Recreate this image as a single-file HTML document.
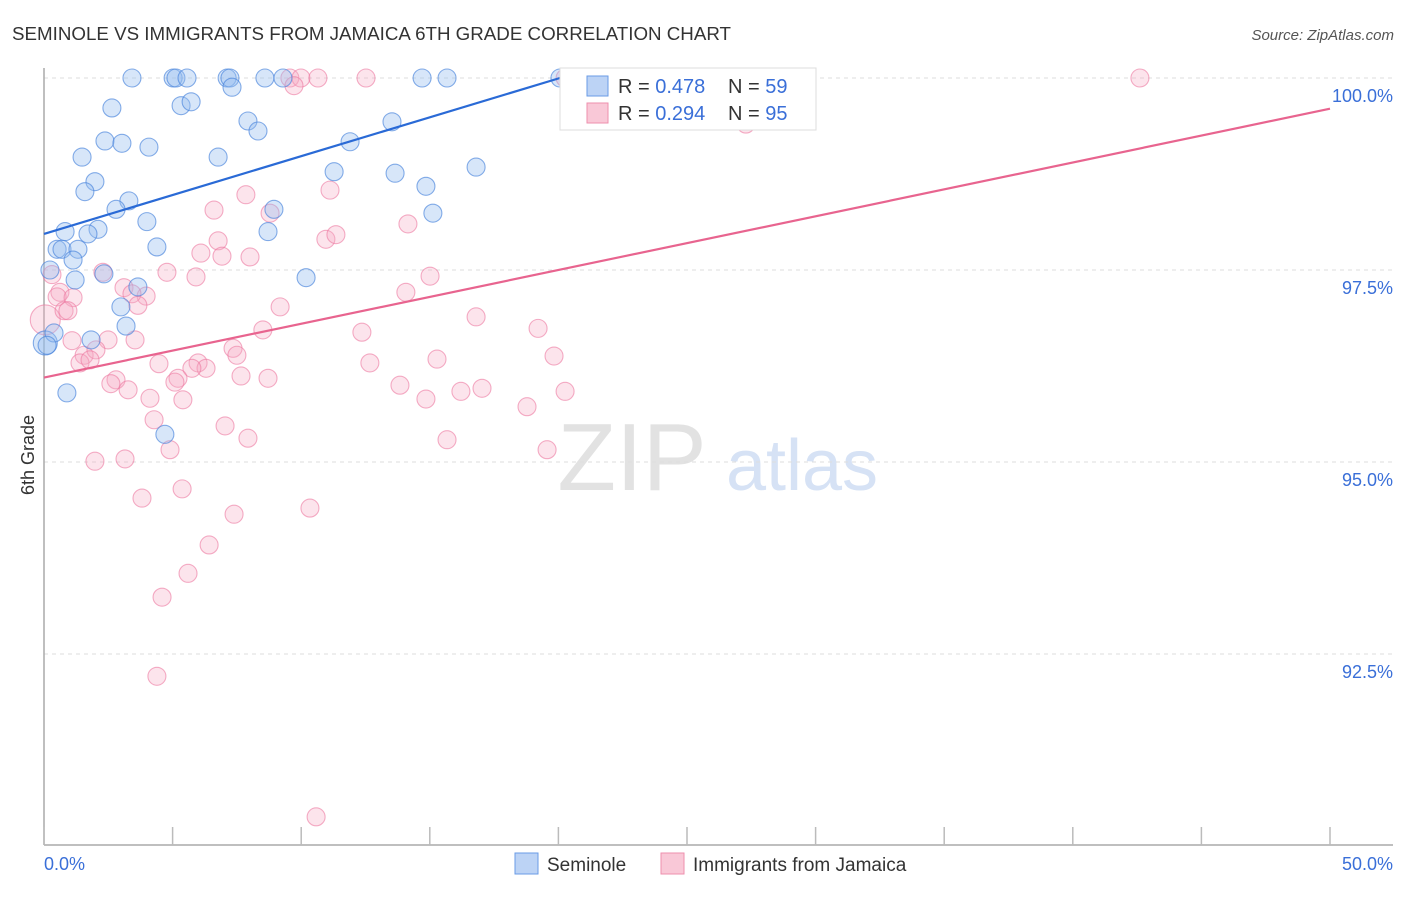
<!DOCTYPE html>
<html><head><meta charset="utf-8"><style>
body{margin:0;background:#fff;font-family:"Liberation Sans",sans-serif;}
svg text{font-family:"Liberation Sans",sans-serif;}
</style></head><body>
<svg id="chart" width="1406" height="892" xmlns="http://www.w3.org/2000/svg">
<text x="12" y="40" font-size="18" fill="#333" textLength="719" lengthAdjust="spacingAndGlyphs">SEMINOLE VS IMMIGRANTS FROM JAMAICA 6TH GRADE CORRELATION CHART</text>
<text x="1394" y="40" font-size="15" fill="#555" text-anchor="end" font-style="italic">Source: ZipAtlas.com</text>
<text x="632" y="490" font-size="96" fill="#e2e2e2" font-family="Liberation Serif" text-anchor="middle">ZIP</text>
<text x="802" y="490" font-size="72" fill="#d6e2f5" text-anchor="middle">atlas</text>
<g id="grid"></g>
<g id="axes"></g>
<g id="pts"></g>
<g id="lines"></g>
<text transform="translate(34,455) rotate(-90)" font-size="18" fill="#333" text-anchor="middle">6th Grade</text>
<g>
<rect x="560" y="68" width="256" height="62" fill="#fff" stroke="#ddd"/>
<rect x="587" y="76" width="21" height="20" fill="#bcd3f5" stroke="#6a9be6"/>
<rect x="587" y="103" width="21" height="20" fill="#f9c8d7" stroke="#ee8fae"/>
<text x="618" y="93" font-size="20" fill="#333">R = <tspan fill="#3a6fd8">0.478</tspan></text>
<text x="728" y="93" font-size="20" fill="#333">N = <tspan fill="#3a6fd8">59</tspan></text>
<text x="618" y="120" font-size="20" fill="#333">R = <tspan fill="#3a6fd8">0.294</tspan></text>
<text x="728" y="120" font-size="20" fill="#333">N = <tspan fill="#3a6fd8">95</tspan></text>
</g>
<g>
<rect x="515" y="853" width="23" height="21" fill="#bcd3f5" stroke="#6a9be6"/>
<text x="547" y="871" font-size="19" fill="#333">Seminole</text>
<rect x="661" y="853" width="23" height="21" fill="#f9c8d7" stroke="#ee8fae"/>
<text x="693" y="871" font-size="19" fill="#333">Immigrants from Jamaica</text>
</g>
</svg>
<script>
const blueX=[3.42,5.02,5.13,5.56,7.12,7.23,8.59,9.29,14.70,15.67,20.06,26.59,7.31,2.64,5.33,5.72,7.93,8.32,2.37,3.03,4.08,1.48,6.77,11.90,13.53,16.80,11.28,13.65,14.85,1.98,1.59,3.30,2.80,8.94,15.12,4.00,0.82,2.10,1.71,8.71,0.51,0.70,1.32,4.39,1.13,0.23,1.21,2.33,10.19,3.65,2.99,3.19,0.39,1.83,0.12,0.89,4.70];
const blueY=[100,100,100,100,100,100,100,100,100,100,100,100,99.88,99.61,99.64,99.69,99.44,99.31,99.18,99.15,99.10,98.97,98.97,99.17,99.43,98.84,98.78,98.76,98.59,98.65,98.52,98.40,98.29,98.29,98.24,98.13,98.00,98.03,97.97,98.00,97.77,97.77,97.77,97.80,97.63,97.50,97.37,97.45,97.40,97.28,97.02,96.77,96.68,96.59,96.52,95.90,95.36];
const pinkX=[9.56,9.99,10.65,12.52,20.26,42.61,9.72,27.29,11.12,7.85,6.61,8.79,14.15,10.96,11.35,6.77,6.10,6.92,8.01,5.91,4.78,2.29,0.31,0.62,0.51,1.13,3.11,3.97,3.42,3.65,9.18,15.01,14.07,16.80,19.21,12.36,8.51,0.78,0.93,7.35,7.50,1.09,2.49,3.54,1.56,1.40,2.02,1.79,4.47,5.99,6.30,5.75,12.67,15.28,19.83,7.66,8.71,2.80,2.60,5.21,5.09,3.27,13.84,16.21,17.03,20.26,4.12,5.40,14.85,18.78,4.28,7.04,7.93,15.67,19.56,4.90,1.98,3.15,3.81,5.37,10.34,7.39,6.42,5.60,4.59,4.39,10.58];
const pinkY=[100,100,100,100,100,100,99.90,99.40,98.54,98.48,98.28,98.24,98.10,97.90,97.96,97.88,97.72,97.68,97.67,97.41,97.47,97.47,97.44,97.21,97.15,97.14,97.27,97.16,97.19,97.04,97.02,97.42,97.21,96.89,96.74,96.69,96.72,96.97,96.97,96.48,96.39,96.58,96.59,96.59,96.39,96.29,96.46,96.33,96.28,96.29,96.22,96.22,96.29,96.34,96.38,96.12,96.09,96.07,96.02,96.09,96.04,95.94,96.00,95.92,95.96,95.92,95.83,95.81,95.82,95.72,95.55,95.47,95.31,95.29,95.16,95.16,95.01,95.04,94.53,94.65,94.40,94.32,93.92,93.55,93.24,92.21,90.38];
const bigBlue=[[0.05,96.55]];
const bigPink=[[0.05,96.85]];
const blueTrendX=[0,20.06], blueTrendY=[97.97,100.0];
const pinkTrendX=[0,50], pinkTrendY=[96.10,99.60];
const yTicks=[100,97.5,95,92.5], yTickLabels=["100.0%","97.5%","95.0%","92.5%"];
const xTicks=[0,5,10,15,20,25,30,35,40,45,50];

const NS="http://www.w3.org/2000/svg";
const X=v=>44+v*25.72, Y=v=>78+(100-v)*76.8;
function mk(tag,attrs,parent){const e=document.createElementNS(NS,tag);for(const k in attrs)e.setAttribute(k,attrs[k]);document.getElementById(parent).appendChild(e);return e;}
yTicks.forEach((t,i)=>{
  const g=mk('line',{x1:44,x2:1393,y1:Y(t),y2:Y(t),stroke:'#ddd','stroke-dasharray':'4,4'},'grid');
  
  
  const l=mk('text',{x:1393,y:Y(t)+24,'font-size':18,fill:'#3a6fd8','text-anchor':'end'},'axes');
  l.textContent=yTickLabels[i];
  
  
});
const ax=mk('line',{x1:44,x2:44,y1:68,y2:845,stroke:'#aaa','stroke-width':1.5},'axes');


const bx=mk('line',{x1:44,x2:1393,y1:845,y2:845,stroke:'#aaa','stroke-width':1.5},'axes');


xTicks.forEach(t=>{
  const tk=mk('line',{x1:X(t),x2:X(t),y1:827,y2:845,stroke:'#bbb','stroke-width':1.5},'axes');
  
  
});
const x0=mk('text',{x:44,y:870,'font-size':18,fill:'#3a6fd8'},'axes');x0.textContent="0.0%";


const x1=mk('text',{x:1393,y:870,'font-size':18,fill:'#3a6fd8','text-anchor':'end'},'axes');x1.textContent="50.0%";


function dot(x,y,r,blue){
  const c=mk('circle',{cx:X(x),cy:Y(y),r:r,fill:blue?'rgba(150,188,240,0.38)':'rgba(246,170,195,0.32)',stroke:blue?'rgba(70,130,220,0.65)':'rgba(236,120,160,0.6)','stroke-width':1.1},'pts');
  
  
}
bigPink.forEach(p=>dot(p[0],p[1],15,false));
bigBlue.forEach(p=>dot(p[0],p[1],12,true));
pinkX.forEach((x,i)=>dot(x,pinkY[i],9,false));
blueX.forEach((x,i)=>dot(x,blueY[i],9,true));
const bl=mk('line',{x1:X(blueTrendX[0]),y1:Y(blueTrendY[0]),x2:X(blueTrendX[1]),y2:Y(blueTrendY[1]),stroke:'#2a6ad6','stroke-width':2.2},'lines');


const pl=mk('line',{x1:X(pinkTrendX[0]),y1:Y(pinkTrendY[0]),x2:X(pinkTrendX[1]),y2:Y(pinkTrendY[1]),stroke:'#e8648f','stroke-width':2.2},'lines');


</script>
</body></html>
